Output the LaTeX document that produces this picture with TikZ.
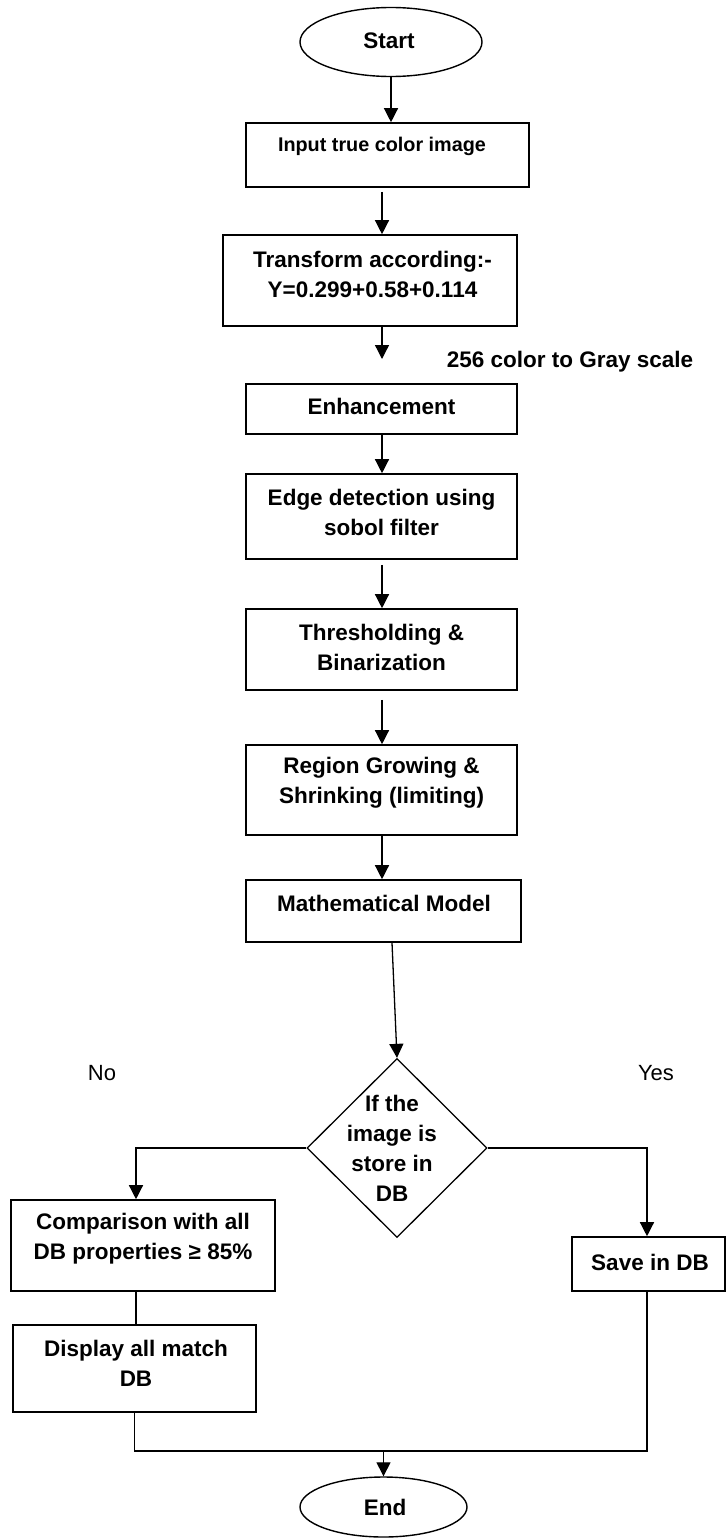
\documentclass[tikz,border=0pt]{standalone}
\usepackage{fontspec}
\setmainfont{Liberation Sans}
\usetikzlibrary{shapes.geometric,arrows.meta}
\begin{document}
\begin{tikzpicture}[x=1pt,y=-1pt,
  box/.style={draw,line width=1.6pt,rectangle,inner sep=0pt},
  oval/.style={draw,line width=1.4pt,ellipse,inner sep=0pt},
  dia/.style={draw,line width=1.3pt,diamond,inner sep=0pt},
  txt/.style={font=\fontsize{22.5}{30}\selectfont\bfseries,align=center,inner sep=0pt},
  smalltxt/.style={font=\fontsize{19.8}{26}\selectfont\bfseries,align=center,inner sep=0pt},
  lbl/.style={font=\fontsize{22}{26}\selectfont,inner sep=0pt},
  con/.style={line width=1.3pt},
  arr/.style={con,-{Triangle[length=14pt,width=14pt]}},
]
\useasboundingbox (0,0) rectangle (727,1539);

% shapes
\node[oval,minimum width=182pt,minimum height=69pt] (start) at (391,42) {};
\node[txt] (startT) at (389,41) {Start};

\node[box,minimum width=283pt,minimum height=64pt] (input) at (387.5,155) {};
\node[smalltxt] (inputT) at (382,146) {Input true color image};

\node[box,minimum width=294pt,minimum height=91pt] (transform) at (370,280.5) {};
\node[txt] (transformT) at (372.5,274) {Transform according:-\\Y=0.299+0.58+0.114};

\node[txt] (gray) at (570,362) {256 color to Gray scale};

\node[box,minimum width=271pt,minimum height=50pt] (enh) at (381.5,409) {};
\node[txt] (enhT) at (381.5,406) {Enhancement};

\node[box,minimum width=271pt,minimum height=85pt] (edge) at (381.5,516.5) {};
\node[txt] (edgeT) at (381.5,512) {Edge detection using\\sobol filter};

\node[box,minimum width=271pt,minimum height=81pt] (thresh) at (381.5,649.5) {};
\node[txt] (threshT) at (381.5,647) {Thresholding \&\\Binarization};

\node[box,minimum width=271pt,minimum height=90pt] (region) at (381.5,790) {};
\node[txt] (regionT) at (381.5,782.5) {Region Growing \&\\Shrinking (limiting)};

\node[box,minimum width=275pt,minimum height=62pt] (math) at (383.5,911) {};
\node[txt] (mathT) at (384,903) {Mathematical Model};

\node[dia,minimum width=180pt,minimum height=179pt] (dec) at (397,1148) {};
\node[txt] (decT) at (392,1148) {If the\\image is\\store in\\DB};

\node[lbl] (no) at (102,1073) {No};
\node[lbl] (yes) at (656,1073) {Yes};

\node[box,minimum width=264pt,minimum height=91pt] (comp) at (143,1245.5) {};
\node[txt] (compT) at (143,1238.5) {Comparison with all\\DB properties ≥ 85\%};

\node[box,minimum width=243pt,minimum height=87pt] (disp) at (134.5,1368.5) {};
\node[txt] (dispT) at (136,1363) {Display all match\\DB};

\node[box,minimum width=153pt,minimum height=54pt] (save) at (648.5,1264) {};
\node[txt] (saveT) at (650,1262) {Save in DB};

\node[oval,minimum width=167pt,minimum height=60pt] (end) at (383.5,1507) {};
\node[txt] (endT) at (385,1507) {End};

% helper columns
\coordinate (col) at (382,0);
\coordinate (lcol) at (136,0);
\coordinate (rcol) at (647,0);
\coordinate (gapEnd) at (382,359);
\coordinate (join) at (383.5,1451);

% connectors
\draw[arr] (start.south) -- (start.south |- input.north);
\draw[arr,shorten <=4pt] (input.south -| col) -- (transform.north -| col);
\draw[arr] (transform.south -| col) -- (gapEnd);
\draw[arr] (enh.south -| col) -- (edge.north -| col);
\draw[arr,shorten <=5pt] (edge.south -| col) -- (thresh.north -| col);
\draw[arr,shorten <=9pt] (thresh.south -| col) -- (region.north -| col);
\draw[arr] (region.south -| col) -- (math.north -| col);
\draw[arr] (math.south -| decT) -- (dec.north);
\draw[arr] (dec.west) -| (lcol |- comp.north);
\draw[arr] (dec.east) -| (rcol |- save.north);
\draw[con] (comp.south -| lcol) -- (disp.north -| lcol);
\draw[con] (disp.south) |- (join);
\draw[con] (save.south -| rcol) |- (join);
\draw[arr] (join) -- (end.north);
\end{tikzpicture}
\end{document}
